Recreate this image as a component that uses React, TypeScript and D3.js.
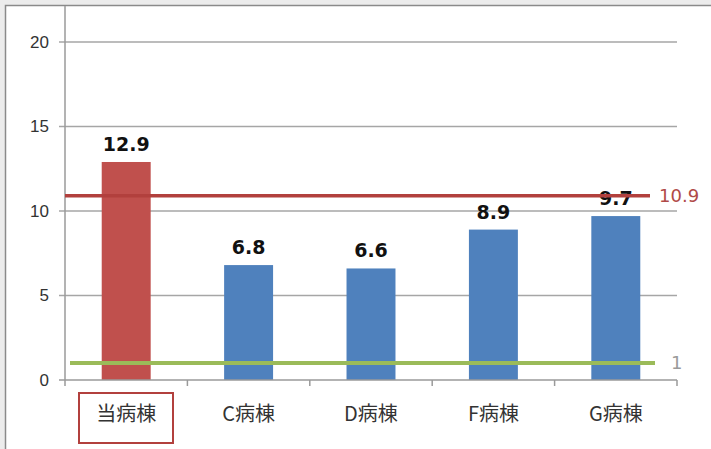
import * as d3 from 'd3';
import React from 'react';

const categories = ['当病棟', 'C病棟', 'D病棟', 'F病棟', 'G病棟'];
const values = [12.9, 6.8, 6.6, 8.9, 9.7];
const yTicks = [0, 5, 10, 15, 20];
const averageValue = 10.9;
const baselineValue = 1;

const width = 711;
const height = 449;
const margin = { top: 42, right: 34, bottom: 69, left: 65 };

const App = () => {
    const x = d3
        .scaleBand<string>()
        .domain(categories)
        .range([margin.left, width - margin.right])
        .paddingInner(0.6)
        .paddingOuter(0.3);
    const y = d3
        .scaleLinear()
        .domain([0, 20])
        .range([height - margin.bottom, margin.top]);
    const y0 = y(0);
    const x1 = width - margin.right;
    const step = x.step();
    const bounds = d3.range(categories.length + 1).map((i) => margin.left + i * step);

    return (
        <svg
            width={width}
            height={height}
            style={{ position: 'absolute', left: 0, top: 0, background: '#ececec' }}
        >
            <rect x={5.5} y={5.5} width={width} height={height} fill="#fff" stroke="#8a8a8a" strokeWidth={1.5} />
            {/* grid */}
            {yTicks.slice(1).map((t) => (
                <line key={t} x1={margin.left - 6} x2={x1} y1={y(t)} y2={y(t)} stroke="#a6a6a6" strokeWidth={1.5} />
            ))}
            {yTicks.map((t) => (
                <text
                    key={t}
                    x={49}
                    y={y(t)}
                    dy="0.35em"
                    textAnchor="end"
                    fontFamily="'Liberation Sans Narrow', 'Liberation Sans', sans-serif"
                    fontSize={17}
                    fill="#333"
                >
                    {t}
                </text>
            ))}
            {/* bars */}
            {values.map((v, i) => (
                <rect
                    key={categories[i]}
                    x={x(categories[i])}
                    y={y(v)}
                    width={x.bandwidth()}
                    height={y0 - y(v)}
                    fill={i === 0 ? '#c0504d' : '#4f81bd'}
                />
            ))}
            {values.map((v, i) => (
                <text
                    key={'l' + i}
                    x={x(categories[i])! + x.bandwidth() / 2}
                    y={y(v) - 11}
                    textAnchor="middle"
                    fontFamily="'DejaVu Sans', sans-serif"
                    fontWeight="bold"
                    fontSize={19}
                    fill="#111"
                >
                    {v.toFixed(1)}
                </text>
            ))}
            {/* axes */}
            <line x1={margin.left} x2={margin.left} y1={6} y2={y0} stroke="#9a9a9a" strokeWidth={1.5} />
            <line x1={margin.left - 6} x2={x1} y1={y0} y2={y0} stroke="#9a9a9a" strokeWidth={1.5} />
            {bounds.map((b, i) => (
                <line key={'t' + i} x1={b} x2={b} y1={y0} y2={y0 + 6} stroke="#9a9a9a" strokeWidth={1.5} />
            ))}
            {/* reference lines */}
            <line x1={margin.left} x2={650} y1={y(averageValue)} y2={y(averageValue)} stroke="#b2403d" strokeWidth={3.5} />
            <text
                x={659}
                y={y(averageValue)}
                dy="0.35em"
                fontFamily="'DejaVu Sans', sans-serif"
                fontSize={18}
                fill="#b04a48"
            >
                {averageValue}
            </text>
            <line x1={70} x2={655} y1={y(baselineValue)} y2={y(baselineValue)} stroke="#9bbb59" strokeWidth={4} />
            <text
                x={671}
                y={y(baselineValue)}
                dy="0.35em"
                fontFamily="'DejaVu Sans', sans-serif"
                fontSize={18}
                fill="#9a9a9a"
            >
                {baselineValue}
            </text>
            {/* category labels */}
            {categories.map((c) => (
                <text
                    key={c}
                    x={x(c)! + x.bandwidth() / 2}
                    y={414}
                    dy="0.35em"
                    textAnchor="middle"
                    fontFamily="'Noto Sans CJK JP', sans-serif"
                    fontSize={20}
                    fill="#333"
                >
                    {c}
                </text>
            ))}
            <rect x={79} y={393} width={94} height={50} fill="none" stroke="#b2403d" strokeWidth={2} />
        </svg>
    );
};

export default App;
